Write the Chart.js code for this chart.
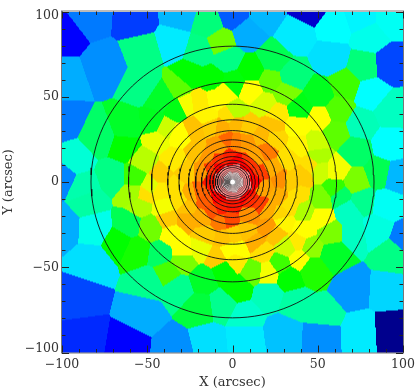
<!DOCTYPE html>
<html>
<head>
<meta charset="utf-8">
<style>
  html, body { margin: 0; padding: 0; background: #fff; }
  canvas { display: block; }
</style>
<script src="https://cdn.jsdelivr.net/npm/chart.js@4/dist/chart.umd.min.js"></script>
</head>
<body>
<canvas id="binMapChart" width="415" height="391"></canvas>
<script>
// Bin centres (arcsec) and colour level
const outerX = [-98,-75,-85,-56,-31,-35,-52,-53,-98,-99,-78,-92,-100,-87,-62,-63,-70,-46,-25,-19,-31,-33,-14,
  0,9,19,45,37,60,58,80,75,93,92,77,81,93,66,62,75,92,60,72,96,86,72,60,
  93,75,91,94,70,52,30,7,53,7,21,37,-6,59,57,71,68,84,101,90,63,76,
  -62,-86,-89,-53,-14,-34,-82,-100,-80,-84,-61,-67,-56,-48,-54,-42,-49,-38,-29,-32,-19,-17];
const outerY = [87,68,97,95,98,82,77,57,60,36,26,13,3,-3,32,21,3,34,62,77,55,43,93,
  98,87,98,102,86,91,73,85,96,96,69,68,52,42,57,42,34,22,29,18,3,5,0,-4,
  -87,-88,-64,-42,-63,-89,-88,-91,-78,-79,-66,-71,-72,-42,-30,-30,-17,-28,-34,-13,-8,-11,
  -95,-91,-68,-77,-93,-98,-47,-26,-27,-11,-25,-35,-40,-27,-13,-42,-59,-53,-46,-62,-74,-57];
const outerLevel = [10,24,22,16,28,33,47,47,27,22,50,39,23,43,56,60,47,57,60,47,69,58,48,
  19,27,28,6,33,35,32,37,34,36,17,48,35,41,66,68,42,35,69,50,28,52,72,65,
  1,33,31,47,25,24,29,33,44,40,42,44,46,56,72,41,41,38,22,36,50,46,
  10,14,17,27,32,24,32,27,37,44,52,60,62,71,77,50,46,67,72,46,54,56];

const ringX = [-57,-52,-48,-58,-52,-44,-40,-31,-27,-20,-9,-5,
  1,11,19,22,31,1,-12,26,38,51,49,50,
  51,61,39,51,46,52,52,42,42,46,47,39,
  38,32,28,33,21,12,-5,3,2,4,17,-19,
  -29,-2,-9,-35,-40,-38,-42,-42,-34,-41,-35,
  35,24,11,-3,-7];
const ringY = [3,12,-2,-7,-8,25,31,27,46,47,49,52,
  41,54,46,59,52,58,60,40,33,37,23,15,
  7,7,43,51,10,-10,-21,-17,-28,-38,-51,-45,
  -35,-38,-48,-56,-53,-52,-52,-62,-46,-40,-41,-39,
  -40,-40,-44,-31,-15,-21,-5,4,13,49,-3,
  62,72,65,72,82];
const ringLevel = [66,78,82,76,88,83,80,85,84,87,85,85,
  78,85,81,70,72,59,60,87,85,85,80,77,
  80,84,58,57,88,72,85,77,85,74,63,85,
  87,80,66,60,84,70,60,60,87,85,88,83,
  85,85,90,85,84,90,87,90,87,56,88,
  48,52,60,47,71];

const innerX = [-22,-13,-6,-15,-2,-21,-27,-8,-3,-8,-13,-2,-18,-15,
  24,2,9,17,25,39,33,41,34,28,20,8,2,14,17,23,10,
  -31,-24,-27,-16,-27,-5,-18,-7,-12,-2,-16,-20,-7,
  13,25,30,29,21,20,8,1,27,19,17,10,10,38,34,
  -12,-8,0,8,13,8,0,-8,
  8,5,0,-6,-8,-5,1,6,
  4,1,-3,-2,2,0];
const innerY = [31,33,32,38,39,18,6,21,25,13,8,14,6,15,
  34,34,32,27,25,21,14,4,0,1,18,24,24,15,5,8,11,
  -11,-7,-15,-31,-22,-33,-21,-23,-17,-22,-11,-6,-15,
  -36,-30,-23,-19,-27,-16,-29,-31,-8,-3,-14,-11,-19,-8,-14,
  1,-9,-13,-9,1,9,12,9,
  0,-6,-8,-5,1,6,8,5,
  0,-4,-2,3,3,0];
const innerLevel = [91,90,93,86,88,91,90,95,100,105,104,107,95,95,
  91,92,90,92,89,86,88,90,90,96,98,95,97,94,104,93,105,
  88,93,91,90,93,91,93,98,102,103,101,100,107,
  93,91,86,89,95,93,91,90,93,94,104,106,96,88,88,
  108,110,108,110,110,110,110,110,
  120,121,120,121,120,121,120,121,
  128,128,128,128,128,130];

// Semi-major axes of the contours along X, flattened a little along Y
const contourRadii = [83,61,47.5,38,31.4,25.8,21.7,18.2,15.5,13.3,11.5,10,8.8,7.6,6.7,5.8,5,4.3,3.6,3,2.4,1.8];
const contourFlattening = 0.96;

const tickLabels = [-100,-50,0,50,100];
const minorTicks = [-90,-80,-70,-60,-40,-30,-20,-10,10,20,30,40,60,70,80,90];

// Colour bar from level 0 up to 130
const colorStops = [
  [0,0,0,128],[10,0,0,255],[35,0,255,255],[60,0,255,0],[85,255,255,0],[110,255,0,0],[130,255,255,255]
];

function colorForLevel(level) {
  for (let i = 1; i < colorStops.length; i++) {
    const a = colorStops[i - 1];
    const b = colorStops[i];
    if (level <= b[0]) {
      const t = (level - a[0]) / (b[0] - a[0]);
      return [1, 2, 3].map(k => Math.round(a[k] + (b[k] - a[k]) * t));
    }
  }
  return [255, 255, 255];
}

const binX = outerX.concat(ringX, innerX);
const binY = outerY.concat(ringY, innerY);
const binLevel = outerLevel.concat(ringLevel, innerLevel);
const binPoints = binX.map((x, i) => ({ x: x, y: binY[i], level: binLevel[i] }));

function contourPoints(radius) {
  const pts = [];
  for (let deg = 0; deg <= 360; deg += 3) {
    const rad = deg * Math.PI / 180;
    pts.push({ x: radius * Math.cos(rad), y: radius * contourFlattening * Math.sin(rad) });
  }
  return pts;
}

function tickText(value) {
  if (value % 50 !== 0) return '';
  return value < 0 ? '\u2212' + Math.abs(value) : String(value);
}

const tickFont = { family: '"DejaVu Serif", serif', size: 12.5 };
const titleFont = { family: '"DejaVu Serif", serif', size: 13 };

// Paints each pixel of the plot with the colour of its nearest bin
const binMapPlugin = {
  id: 'binMap',
  beforeDatasetsDraw(chart) {
    const area = chart.chartArea;
    const xs = chart.scales.x;
    const ys = chart.scales.y;
    const w = Math.round(area.right - area.left);
    const h = Math.round(area.bottom - area.top);
    const off = document.createElement('canvas');
    off.width = w;
    off.height = h;
    const offCtx = off.getContext('2d');
    const img = offCtx.createImageData(w, h);
    const colors = binPoints.map(p => colorForLevel(p.level));
    for (let row = 0; row < h; row++) {
      const yVal = ys.getValueForPixel(area.top + row + 0.5);
      for (let col = 0; col < w; col++) {
        const xVal = xs.getValueForPixel(area.left + col + 0.5);
        let best = 0;
        let bestDist = Infinity;
        for (let i = 0; i < binPoints.length; i++) {
          const dx = binPoints[i].x - xVal;
          const dy = binPoints[i].y - yVal;
          const d = dx * dx + dy * dy;
          if (d < bestDist) {
            bestDist = d;
            best = i;
          }
        }
        const idx = (row * w + col) * 4;
        img.data[idx] = colors[best][0];
        img.data[idx + 1] = colors[best][1];
        img.data[idx + 2] = colors[best][2];
        img.data[idx + 3] = 255;
      }
    }
    offCtx.putImageData(img, 0, 0);
    const ctx = chart.ctx;
    ctx.save();
    ctx.beginPath();
    ctx.rect(area.left, area.top, w, h);
    ctx.clip();
    ctx.drawImage(off, area.left, area.top);
    ctx.filter = 'blur(0.6px)';
    ctx.drawImage(off, area.left, area.top);
    ctx.restore();
  },
  afterDatasetsDraw(chart) {
    // Frame and inward ticks on all four sides
    const area = chart.chartArea;
    const ctx = chart.ctx;
    const xs = chart.scales.x;
    const ys = chart.scales.y;
    ctx.save();
    ctx.strokeStyle = '#777';
    ctx.lineWidth = 1;
    ctx.strokeRect(area.left - 0.5, area.top - 0.5, area.right - area.left + 1, area.bottom - area.top + 1);
    ctx.strokeStyle = '#222';
    function drawTicks(values, len) {
      ctx.beginPath();
      values.forEach(v => {
        const px = Math.round(xs.getPixelForValue(v)) + 0.5;
        const py = Math.round(ys.getPixelForValue(v)) + 0.5;
        ctx.moveTo(px, area.bottom); ctx.lineTo(px, area.bottom - len);
        ctx.moveTo(px, area.top); ctx.lineTo(px, area.top + len);
        ctx.moveTo(area.left, py); ctx.lineTo(area.left + len, py);
        ctx.moveTo(area.right, py); ctx.lineTo(area.right - len, py);
      });
      ctx.stroke();
    }
    drawTicks(tickLabels, 7);
    drawTicks(minorTicks, 3.5);

    // Y tick labels, the two end ones sit inside the frame height
    ctx.fillStyle = '#333';
    ctx.font = tickFont.size + 'px ' + tickFont.family;
    ctx.textAlign = 'right';
    ctx.textBaseline = 'middle';
    tickLabels.forEach(v => {
      let shift = 0;
      if (v === 100) shift = 4;
      if (v === -100) shift = -4;
      ctx.fillText(tickText(v), area.left - 3, ys.getPixelForValue(v) + shift);
    });
    ctx.restore();
  }
};

const datasets = [{
  label: 'bins',
  data: binPoints,
  pointRadius: 0,
  showLine: false
}];
contourRadii.forEach(r => {
  datasets.push({
    label: 'contour',
    data: contourPoints(r),
    showLine: true,
    borderColor: r < 8 ? '#444' : '#111',
    borderWidth: r < 8 ? 0.5 : 0.9,
    pointRadius: 0,
    tension: 0
  });
});

new Chart(document.getElementById('binMapChart').getContext('2d'), {
  type: 'scatter',
  data: { datasets: datasets },
  plugins: [binMapPlugin],
  options: {
    responsive: false,
    animation: false,
    layout: { padding: { top: 11.5, right: 12 } },
    plugins: { legend: { display: false }, tooltip: { enabled: false } },
    scales: {
      x: {
        type: 'linear',
        min: -100,
        max: 100,
        afterFit(scale) {
          scale.height = 38.5;
          scale.paddingLeft = 0;
          scale.paddingRight = 0;
        },
        grid: { display: false, drawTicks: false },
        border: { display: false },
        ticks: { stepSize: 10, autoSkip: false, maxRotation: 0, padding: 5, color: '#333', font: tickFont, callback: tickText },
        title: { display: true, text: 'X (arcsec)', color: '#333', font: titleFont, padding: { top: 0, bottom: 1 } }
      },
      y: {
        type: 'linear',
        min: -100,
        max: 100,
        afterFit(scale) {
          scale.width = 62;
          scale.paddingTop = 0;
          scale.paddingBottom = 0;
        },
        grid: { display: false, drawTicks: false },
        border: { display: false },
        ticks: { display: false },
        title: { display: true, text: 'Y (arcsec)', color: '#333', font: titleFont, padding: { top: 1, bottom: 0 } }
      }
    }
  }
});
</script>
</body>
</html>
